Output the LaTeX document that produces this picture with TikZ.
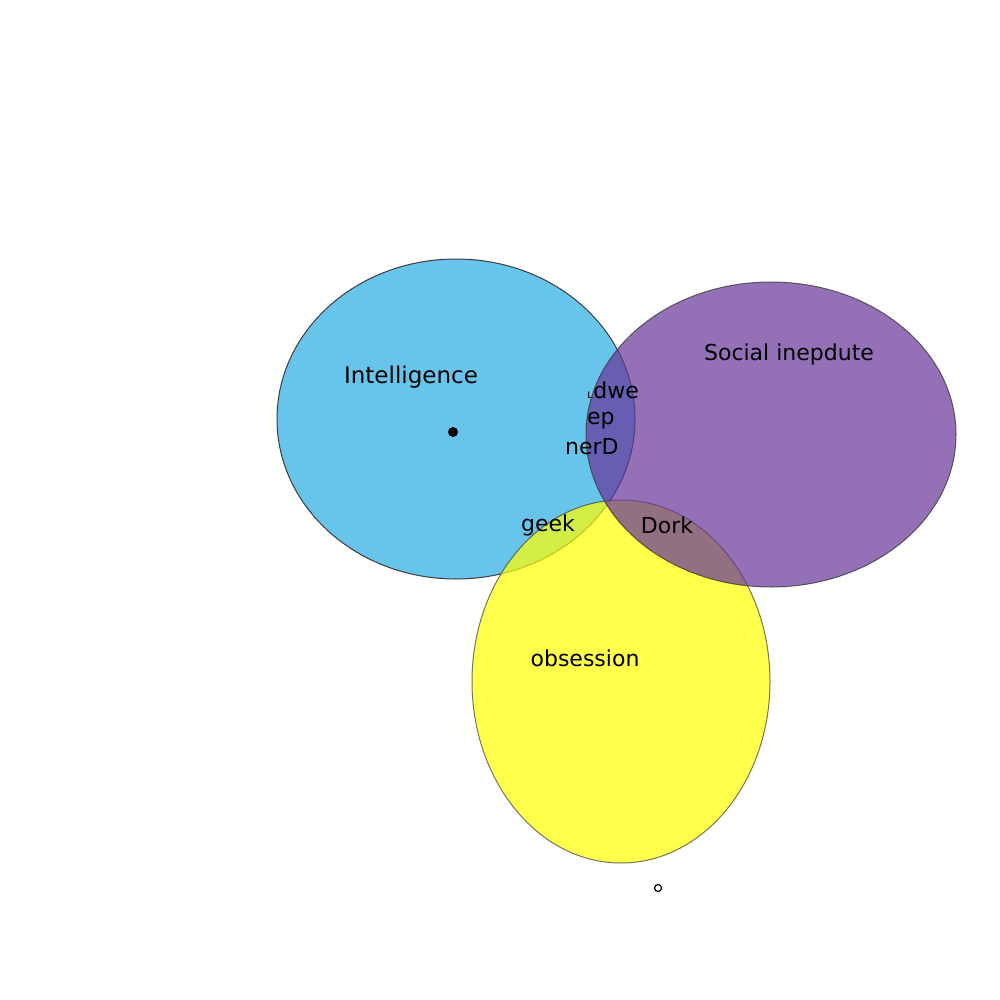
\documentclass[tikz,border=0pt]{standalone}
\usepackage{fontspec}
\setmainfont{DejaVu Sans}
\usetikzlibrary{shapes.geometric}
\definecolor{smart}{HTML}{67C4EB}
\definecolor{awkward}{HTML}{663399}
\definecolor{obsess}{HTML}{FFFF00}
\definecolor{rim}{HTML}{3C3C3C}

\begin{document}
\begin{tikzpicture}[
    x=1pt, y=-1pt,
    venn/.style={ellipse, draw=rim, line width=1pt, inner sep=0pt},
    lab/.style={font=\fontsize{22}{26}\selectfont, text=black, inner sep=0pt},
]
\useasboundingbox (0,0) rectangle (1000,1000);

\node[venn, fill=smart, minimum width=358pt, minimum height=320pt] (I) at (456,419) {};
\node[venn, fill=obsess, fill opacity=0.7, draw opacity=0.7,
      minimum width=298pt, minimum height=363pt] (O) at (621,681.5) {};
\node[venn, fill=awkward, fill opacity=0.7, draw opacity=0.8,
      minimum width=370pt, minimum height=305pt] (S) at (771,434.5) {};

\node[lab, font=\fontsize{23}{27}\selectfont] (intel) at (411,377) {Intelligence};
\node[lab] (social) at (789,354) {Social inepdute};
\node[lab] (obs) at (585,658) {obsession};
\node[lab, anchor=west] (dwe) at (587,390) {{\fontsize{12}{14}\selectfont ʟ}dwe};
\node[lab, anchor=west] (ep) at (587,421) {ep};
\node[lab, anchor=west, font=\fontsize{22}{26}\selectfont] (nerd) at (565,447) {nerD};
\node[lab] (geek) at (548,525) {geek};
\node[lab] (dork) at (667,525) {Dork};

\node[circle, fill=black, inner sep=0pt, minimum size=10pt] (dot) at (453,432) {};
\node[circle, draw=black, line width=1.2pt, inner sep=0pt, minimum size=7pt] (ring) at (658,888) {};

\end{tikzpicture}
\end{document}
